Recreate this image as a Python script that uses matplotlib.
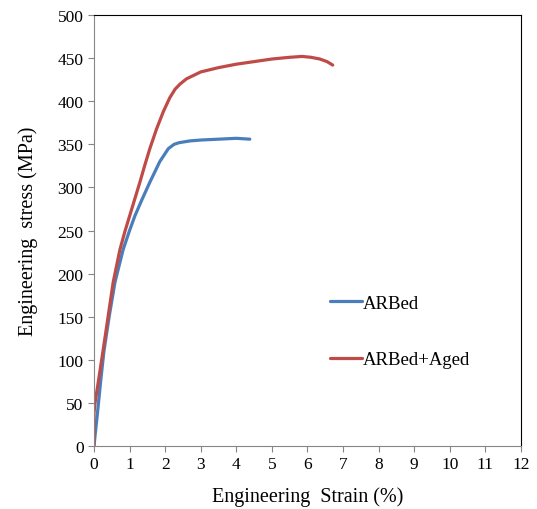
import matplotlib
matplotlib.use('Agg')
import matplotlib.pyplot as plt

plt.rcParams['font.family'] = ['Liberation Serif', 'DejaVu Serif']

# ARBed curve (strain %, stress MPa)
strain1 = [0, 0.03, 0.09, 0.19, 0.28, 0.43, 0.59, 0.82, 1.0, 1.15, 1.35, 1.57, 1.85, 2.09, 2.25,
           2.4, 2.7, 3.0, 3.5, 4.0, 4.38]
stress1 = [0, 12, 35, 76, 110, 151, 190, 228, 250, 267, 286, 306, 330, 345, 350,
           352, 354, 355, 356, 357, 356]

# ARBed+Aged curve
strain2 = [0, 0, 0.03, 0.12, 0.26, 0.40, 0.54, 0.73, 0.87, 1.01, 1.15, 1.29, 1.43, 1.57, 1.76,
           1.95, 2.13, 2.28, 2.42, 2.6, 2.8, 3.0, 3.5, 4.0, 4.5, 5.0, 5.5, 5.85, 6.1, 6.35,
           6.55, 6.71]
stress2 = [0, 38, 50, 74, 112, 151, 190, 228, 249, 268, 287, 306, 326, 345, 368,
           388, 404, 414, 420, 426, 430, 434, 439, 443, 446, 449, 451, 452, 451, 449,
           446, 442]

xticks = list(range(0, 13))
yticks = list(range(0, 501, 50))

fig = plt.figure(figsize=(5.37, 5.10), dpi=100)
ax = fig.add_axes([0.175, 0.1235, 0.795, 0.845])

ax.plot(strain1, stress1, color='#4a7ebb', lw=2.3, label='ARBed',
        solid_capstyle='round', solid_joinstyle='round')
ax.plot(strain2, stress2, color='#be4b48', lw=2.3, label='ARBed+Aged',
        solid_capstyle='round', solid_joinstyle='round')

ax.set_xlim(0, 12)
ax.set_ylim(0, 500)
ax.set_xticks(xticks)
ax.set_yticks(yticks)
ax.tick_params(axis='both', labelsize=12.5, color='#868686', length=4, direction='out')

for s in ['left', 'bottom']:
    ax.spines[s].set_color('#868686')
for s in ['top', 'right']:
    ax.spines[s].set_color('black')

ax.set_xlabel('Engineering  Strain (%)', fontsize=14.5, labelpad=10)
ax.set_ylabel('Engineering  stress (MPa)', fontsize=14.5, labelpad=14)

ax.legend(loc='center left', bbox_to_anchor=(0.553, 0.266), frameon=False,
          borderaxespad=0, borderpad=0, handlelength=1.7, handletextpad=0.05,
          labelspacing=2.1, fontsize=13.5)

fig.savefig('out.png', dpi=100)
